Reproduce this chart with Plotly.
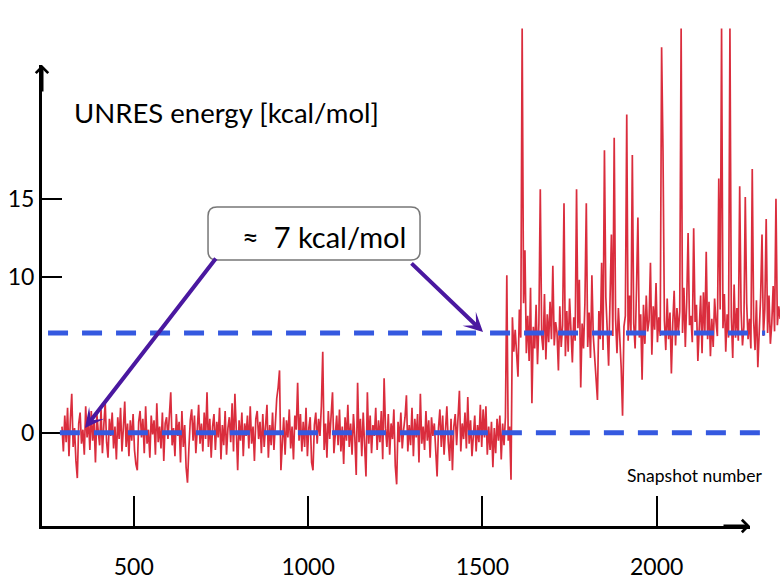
import plotly.graph_objects as go

# snapshot index of every plotted frame
snapshot = list(range(294, 2358, 4))

# UNRES energy [kcal/mol] (before the jump)
energy_folded = [
    0.4, -1.2, 1.1, -0.6, 1.6, -1.5, 0.8, 2.5, -0.9, 0.3,
    -1.8, -2.9, 0.6, 1.3, -0.7, 0.2, -1.4, 1.7, -0.3, 0.9,
    -1.1, 1.4, -0.5, 0.7, -1.9, 1.2, 0.1, -0.8, 1.5, -1.3,
    0.5, 1.9, -0.6, -1.6, 0.9, -0.2, 1.3, -1.0, 0.4, -1.7,
    1.0, -0.4, 1.6, -1.2, 0.3, 2.0, -0.9, 0.6, -1.5, 0.8,
    -0.5, 1.2, -1.1, -2.0, -2.4, 0.7, 1.4, -0.3, 0.9, -1.3,
    1.7, -0.7, 0.2, -1.6, 1.1, -0.1, 0.8, -1.4, 1.9, -0.6,
    0.4, -1.0, 1.3, -1.8, 0.6, 1.0, -0.4, 1.6, 2.6, -0.8,
    0.3, -1.5, 1.2, -0.2, 0.7, -1.9, 1.4, -0.9, 0.5, -2.2,
    -3.2, -1.0, 0.8, 1.5, -0.5, 1.1, -1.3, 0.2, 1.8, -0.7,
    0.6, -1.2, 1.3, -0.4, 2.6, -0.9, 0.9, -1.6, 0.4, 1.2,
    -1.1, 0.7, -0.3, 1.6, -1.7, 0.5, -0.8, 1.4, -1.4, 0.3,
    1.0, -0.6, 1.9, -1.2, 2.5, 0.2, -2.4, 0.8, -0.5, 1.3,
    -1.5, 0.6, -0.2, 1.1, -1.0, 1.7, -0.7, 0.4, -1.8, 0.9,
    1.4, -0.4, 0.7, -1.3, 1.2, -0.9, 0.3, 1.8, -1.6, 0.5,
    -0.8, 1.3, -1.1, 0.6, 2.2, 2.9, 4.0, -2.4, -0.6, 1.0,
    -1.4, 0.8, -0.3, 1.5, -1.0, 0.4, -1.7, 1.1, 0.2, 3.2,
    -0.5, 1.2, -1.2, 0.7, -0.9, 1.6, -1.5, 0.3, 1.0, -1.9,
    -2.4, 0.5, 1.3, -0.7, 0.9, -0.2, 1.7, 5.2, -1.1, 0.6,
    -1.6, 1.4, -0.4, 0.8, 2.6, -1.3, 0.2, 1.1, -0.8, 1.5,
    -1.2, 0.4, -2.0, 1.0, -0.5, 1.8, -0.9, 0.6, -1.4, 1.2,
    -0.3, -2.7, 3.2, -0.6, 0.9, -1.5, 1.3, -1.0, -2.8, 2.6,
    -0.7, 1.1, -1.3, 0.5, -0.2, 1.6, -1.1, 0.8, -0.6, 1.4,
    -1.7, 3.5, 0.3, -0.9, 1.2, -1.4, 0.6, -0.4, 1.5, -2.1,
    -3.3, 0.7, -0.6, 1.3, -1.0, 0.2, 1.0, 2.4, -1.2, 0.5,
    -0.8, 1.6, -1.5, 0.9, -0.3, 1.2, -1.9, 2.5, -0.7, 0.4,
    -1.1, 1.4, -0.5, 0.8, -1.6, 1.0, -0.2, 0.6, -1.3, -2.8,
    0.3, 1.5, -0.9, 1.1, -1.4, 0.5, 1.7, -0.6, -1.8, 0.9,
    -2.4, 0.4, 1.2, -0.8, 1.0, 2.7, -1.2, 0.6, -0.4, 1.3,
    -1.0, 2.3, -0.7, 0.8, -1.5, 0.2, 1.1, -1.2, 0.5, -0.6,
    1.8, -0.9, 1.5, -0.3, 1.7, -1.4, 0.4, -1.1, 0.7, -2.2,
    0.3, -1.3, 0.9, -0.5, 1.1, -1.7, 0.6, -0.8, 1.0, 10.1,
    -0.5, 0.4, -3.0,
]

# after the jump
energy_unfolded = [
    7.4, 5.2, 6.6, 4.8, 3.6, 7.9, 6.1, 25.9, 8.3, 11.7,
    5.1, 7.5, 4.6, 9.3, 1.9, 6.8, 5.4, 8.2, 4.4, 7.0,
    15.6, 6.2, 5.3, 8.9, 4.7, 7.6, 5.8, 8.4, 6.0, 10.7,
    5.6, 7.1, 6.4, 4.0, 8.1, 5.5, 6.9, 14.7, 4.9, 7.8,
    5.2, 8.6, 6.3, 4.5, 7.4, 5.9, 15.6, 6.7, 9.8, 2.9,
    7.0, 5.4, 8.3, 14.7, 5.5, 7.7, 4.8, 10.1, 6.2, 5.0,
    3.9, 2.1, 7.8, 6.0, 10.9, 5.3, 18.1, 8.7, 6.6, 4.3,
    8.5, 12.7, 6.2, 18.9, 7.3, 5.1, 8.0, 6.4, 4.2, 1.1,
    6.8, 7.5, 20.4, 5.9, 8.8, 6.3, 17.8, 7.0, 5.4, 9.2,
    13.8, 6.1, 7.6, 3.4, 8.2, 5.7, 8.8, 6.5, 7.2, 10.9,
    5.0, 8.1, 6.6, 9.6, 5.8, 7.4, 6.2, 24.7, 18.0, 7.2,
    5.3, 8.6, 6.0, 7.7, 3.8, 7.0, 9.1, 5.6, 8.0, 6.4,
    7.8, 25.9, 6.4, 9.3, 5.5, 8.4, 12.8, 6.9, 7.5, 5.8,
    13.1, 7.1, 8.2, 4.6, 6.9, 8.8, 5.1, 9.0, 6.3, 11.6,
    6.0, 8.4, 4.9, 7.3, 5.5, 8.6, 7.1, 6.2, 16.3, 7.9,
    25.9, 6.7, 8.9, 5.2, 7.6, 6.1, 25.9, 7.4, 4.8, 9.5,
    6.1, 8.0, 5.9, 15.8, 7.8, 5.6, 6.8, 15.1, 8.3, 6.0,
    7.3, 5.4, 16.9, 7.2, 5.3, 8.5, 4.2, 6.7, 8.7, 12.7,
    6.2, 7.9, 13.7, 6.4, 8.8, 5.7, 7.0, 9.4, 6.5, 15.0,
    6.9, 8.1, 7.3,
]

energy = energy_folded + energy_unfolded
mean_levels = [0.0, 6.4]
x_ticks = [500, 1000, 1500, 2000]
y_ticks = [0, 10, 15]

W, H = 780, 585
FONT = 'Lato, Arial, sans-serif'
PURPLE = '#4a18a0'


def px(x):
    return x / W


def py(y):
    return 1 - y / H


def rounded_box(x0, y0, x1, y1, r):
    pts = [
        ('M', x0 + r, y0), ('L', x1 - r, y0), ('Q', x1, y0, x1, y0 + r),
        ('L', x1, y1 - r), ('Q', x1, y1, x1 - r, y1), ('L', x0 + r, y1),
        ('Q', x0, y1, x0, y1 - r), ('L', x0, y0 + r), ('Q', x0, y0, x0 + r, y0),
    ]
    out = []
    for p in pts:
        c = p[1:]
        coords = ' '.join(f'{px(c[i]):.4f},{py(c[i + 1]):.4f}' for i in range(0, len(c), 2))
        out.append(p[0] + coords)
    return ' '.join(out) + ' Z'


fig = go.Figure()
fig.add_trace(go.Scatter(x=snapshot, y=energy, mode='lines',
                         line=dict(color='rgba(214,22,40,0.9)', width=1.7),
                         hoverinfo='skip', showlegend=False))
fig.add_trace(go.Scatter(x=[], y=[], xaxis='x2', yaxis='y2', showlegend=False))

for lvl, x0 in zip(mean_levels, [288, 254]):
    fig.add_shape(type='line', xref='x', yref='y', x0=x0, x1=2311, y0=lvl, y1=lvl,
                  line=dict(color='#3559E0', width=5, dash='20px,14px'), layer='above')

fig.add_shape(type='path', xref='paper', yref='paper', path=rounded_box(208, 207, 420, 260, 9),
              line=dict(color='#777777', width=1.5), fillcolor='white', layer='above')

axis_common = dict(showline=True, linewidth=3, linecolor='black', ticks='inside', tickwidth=2,
                   tickcolor='black', showgrid=False, zeroline=False,
                   tickfont=dict(size=23, color='black', family=FONT))

annotations = [
    # axis arrow heads
    dict(xref='x2', yref='y2', x=236.7, y=23.56, ax=0, ay=28, showarrow=True, arrowhead=4,
         arrowwidth=3, arrowsize=0.8, arrowcolor='black', text=''),
    dict(xref='x2', yref='y2', x=2267.7, y=-5.97, ax=-28, ay=0, showarrow=True, arrowhead=4,
         arrowwidth=3, arrowsize=0.8, arrowcolor='black', text=''),
    # purple arrows from the label
    dict(xref='x', yref='y', x=360.0, y=0.31, ax=132, ay=-171, showarrow=True, arrowhead=3,
         arrowwidth=4, arrowsize=0.8, arrowcolor=PURPLE, text=''),
    dict(xref='x', yref='y', x=1501.7, y=6.46, ax=-73, ay=-70, showarrow=True, arrowhead=3,
         arrowwidth=4, arrowsize=0.8, arrowcolor=PURPLE, text=''),
    dict(xref='paper', yref='paper', x=px(324), y=py(236), xanchor='center', yanchor='middle',
         text='≈  7 kcal/mol', showarrow=False, font=dict(size=29, color='black', family=FONT)),
    dict(xref='paper', yref='paper', x=px(72), y=py(113), xanchor='left', yanchor='middle',
         text='UNRES energy [kcal/mol]', showarrow=False,
         font=dict(size=27.5, color='black', family=FONT)),
    dict(xref='paper', yref='paper', x=px(625), y=py(475), xanchor='left', yanchor='middle',
         text='Snapshot number', showarrow=False, font=dict(size=17.5, color='black', family=FONT)),
]

fig.update_layout(
    width=W, height=H, margin=dict(l=0, r=0, t=0, b=0),
    paper_bgcolor='white', plot_bgcolor='rgba(0,0,0,0)', hovermode=False, showlegend=False,
    xaxis=dict(domain=[0, 1], range=[116.2, 2353.6], visible=False),
    yaxis=dict(domain=[0, 1], range=[-9.75, 27.73], visible=False),
    xaxis2=dict(domain=[px(42), px(750)], range=[236.7, 2267.7], anchor='y2', ticklen=30,
                tickvals=x_ticks, ticklabelstandoff=18, **axis_common),
    yaxis2=dict(domain=[py(526), py(65)], range=[-5.97, 23.56], anchor='x2', ticklen=20,
                tickvals=y_ticks, **axis_common),
    annotations=annotations,
)

# the page's default body margin would push the 780x585 figure off by 8 px
fig.write_html('out.html', config={'displayModeBar': False},
               post_script="document.body.style.margin='0';")
